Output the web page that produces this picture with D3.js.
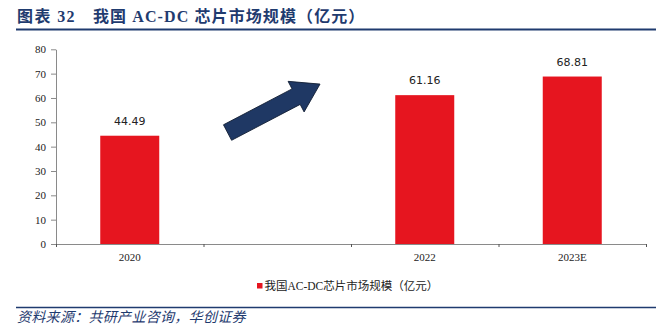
<!DOCTYPE html>
<html>
<head>
<meta charset="utf-8">
<script src="https://cdn.jsdelivr.net/npm/d3@7"></script>
<style>
  body { margin: 0; background: #fff; }
  svg { display: block; }
</style>
</head>
<body>
<svg width="656" height="326"></svg>
<script>
  // chart data
  const categories = ["2020", "", "2022", "2023E"];
  const values = [44.49, null, 61.16, 68.81];
  const yTicks = [0, 10, 20, 30, 40, 50, 60, 70, 80];
  const seriesName = "我国AC-DC芯片市场规模（亿元）";
  const titleNo = "图表 32";
  const titleText = "我国 AC-DC 芯片市场规模（亿元）";
  const sourceText = "资料来源：共研产业咨询，华创证券";
  // growth arrow, in band-index / value units
  const arrowFrom = [1.163, 45.8];
  const arrowTo = [1.79, 65.7];

  const navy = "#1f3b6f";
  const red = "#e6151f";
  const serif = "'Liberation Serif', 'Times New Roman', 'Noto Sans CJK SC', serif";

  const svg = d3.select("svg");

  const margin = { left: 56, right: 10, top: 49.3, bottom: 82 };
  const width = 656;
  const height = 326;

  const x = d3.scaleBand()
    .domain(categories.map((d, i) => i))
    .range([margin.left, width - margin.right])
    .padding(0);

  const xi = d3.scaleLinear()
    .domain([0, categories.length])
    .range([margin.left, width - margin.right]);

  const y = d3.scaleLinear()
    .domain([0, 80])
    .range([height - margin.bottom, margin.top]);

  // title
  svg.append("text")
    .attr("x", 17).attr("y", 22)
    .attr("fill", navy)
    .style("font", `bold 16px ${serif}`)
    .style("letter-spacing", "1.4px")
    .text(titleNo);
  svg.append("text")
    .attr("x", 93).attr("y", 22)
    .attr("fill", navy)
    .style("font", `bold 16px ${serif}`)
    .style("letter-spacing", "1.1px")
    .text(titleText);
  svg.append("line")
    .attr("x1", 16).attr("x2", 656)
    .attr("y1", 29.5).attr("y2", 29.5)
    .attr("stroke", navy).attr("stroke-width", 2);

  // bars
  const barW = x.bandwidth() * 0.4;
  const data = categories.map((c, i) => ({ i, c, v: values[i] })).filter(d => d.v != null);

  svg.append("g").selectAll("rect")
    .data(data)
    .join("rect")
    .attr("x", d => x(d.i) + x.bandwidth() / 2 - barW / 2)
    .attr("width", barW)
    .attr("y", d => y(d.v))
    .attr("height", d => y(0) - y(d.v))
    .attr("fill", red);

  svg.append("g").selectAll("text")
    .data(data)
    .join("text")
    .attr("x", d => x(d.i) + x.bandwidth() / 2)
    .attr("y", d => y(d.v) - 11)
    .attr("text-anchor", "middle")
    .attr("fill", "#222")
    .style("font", "11px 'DejaVu Sans', sans-serif")
    .text(d => d3.format(".2f")(d.v));

  // y axis
  const gy = svg.append("g")
    .attr("transform", `translate(${margin.left},0)`)
    .call(d3.axisLeft(y).tickValues(yTicks).tickSize(5).tickSizeOuter(0).tickPadding(5));
  gy.select(".domain").attr("stroke", "#8a8a8a");
  gy.selectAll(".tick line").attr("stroke", "#8a8a8a");
  gy.selectAll(".tick text").attr("fill", "#222").style("font", `11px ${serif}`);

  // x axis
  const gx = svg.append("g")
    .attr("transform", `translate(0,${y(0)})`)
    .call(d3.axisBottom(xi).tickValues(d3.range(categories.length + 1)).tickSize(3).tickSizeOuter(0).tickFormat(""));
  gx.select(".domain").attr("stroke", "#8a8a8a");
  gx.selectAll(".tick line").attr("stroke", "#555");

  svg.append("g").selectAll("text")
    .data(categories.map((c, i) => ({ c, i })))
    .join("text")
    .attr("x", d => x(d.i) + x.bandwidth() / 2)
    .attr("y", y(0) + 17)
    .attr("text-anchor", "middle")
    .attr("fill", "#222")
    .style("font", `11px ${serif}`)
    .text(d => d.c);

  // arrow
  const ax0 = xi(arrowFrom[0]), ay0 = y(arrowFrom[1]);
  const ax1 = xi(arrowTo[0]), ay1 = y(arrowTo[1]);
  const len = Math.hypot(ax1 - ax0, ay1 - ay0);
  const ang = Math.atan2(ay1 - ay0, ax1 - ax0) * 180 / Math.PI;
  const shaftW = 17.5, headW = 34.5, headL = 27;
  const arrowPts = [
    [0, -shaftW / 2], [len - headL, -shaftW / 2], [len - headL, -headW / 2],
    [len, 0],
    [len - headL, headW / 2], [len - headL, shaftW / 2], [0, shaftW / 2]
  ];
  svg.append("path")
    .attr("transform", `translate(${ax0},${ay0}) rotate(${ang})`)
    .attr("d", d3.line()(arrowPts) + "Z")
    .attr("fill", "#1f3864")
    .attr("stroke", "#111d33")
    .attr("stroke-width", 0.8);

  // legend
  const lg = svg.append("g").attr("transform", "translate(257,283)");
  lg.append("rect").attr("width", 5.5).attr("height", 5.5).attr("fill", red);
  lg.append("text")
    .attr("x", 7.5).attr("y", 6.5)
    .attr("fill", "#222")
    .style("font", `11.5px ${serif}`)
    .text(seriesName);

  // source
  svg.append("line")
    .attr("x1", 16).attr("x2", 656)
    .attr("y1", 307.5).attr("y2", 307.5)
    .attr("stroke", navy).attr("stroke-width", 1.5);
  svg.append("text")
    .attr("x", 17).attr("y", 322)
    .attr("fill", navy)
    .style("font", "italic 14px 'Noto Sans CJK SC', sans-serif")
    .style("letter-spacing", "0.3px")
    .text(sourceText);
</script>
</body>
</html>
